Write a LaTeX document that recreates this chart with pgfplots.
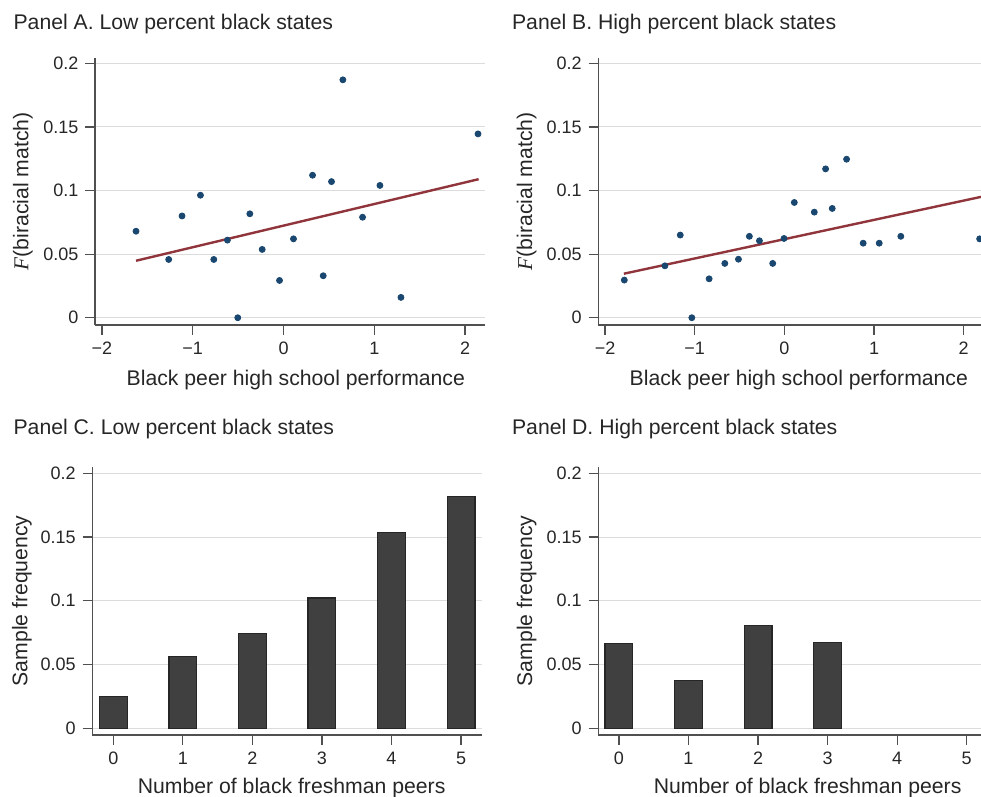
\documentclass[border=0pt]{standalone}
\usepackage{fontspec}
\setmainfont{Liberation Sans}
\newfontfamily\serifit{Liberation Serif}
\usepackage{pgfplots}
\pgfplotsset{compat=1.18}

\definecolor{navy}{HTML}{1A476F}
\definecolor{maroon}{HTML}{90353B}
\definecolor{barfill}{HTML}{404040}
\definecolor{baredge}{HTML}{262626}
\definecolor{gridc}{HTML}{DCDCDC}
\definecolor{axisc}{HTML}{505050}

\pgfplotsset{
  panel/.style={
    scale only axis,
    anchor=south west,
    axis lines*=left,
    axis line style={axisc, line width=0.6pt},
    every tick/.style={axisc, line width=0.6pt},
    tick align=outside,
    major tick length=4.8pt,
    ymajorgrids,
    major grid style={gridc, line width=0.5pt},
    ytick={0,0.05,0.1,0.15,0.2},
    yticklabels={0,0.05,0.1,0.15,0.2},
    tick label style={font=\fontsize{9}{10}\selectfont, text=black!85},
    label style={font=\fontsize{10.6}{12}\selectfont, text=black!85},
    clip=false,
  },
}

\begin{document}
\begin{tikzpicture}
\path[use as bounding box] (0,0) rectangle (490.5pt,398.5pt);

\tikzset{ttl/.style={anchor=base west, inner sep=0pt, font=\fontsize{10.6}{12}\selectfont, text=black!85}}
\node[ttl] at (6.6pt,383.5pt) {Panel A. Low percent black states};
\node[ttl] at (255.85pt,383.5pt) {Panel B. High percent black states};
\node[ttl] at (6.6pt,181pt) {Panel C. Low percent black states};
\node[ttl] at (255.85pt,181pt) {Panel D. High percent black states};

% Panel A
\begin{axis}[panel,
  at={(47.5pt,236pt)}, width=195pt, height=133.65pt,
  xmin=-2.077, xmax=2.22, ymin=-0.0057, ymax=0.2044,
  xtick={-2,-1,0,1,2}, xticklabels={−2,−1,0,1,2},
  xlabel={Black peer high school performance},
  ylabel={{\serifit\itshape F}(biracial match)},
  xlabel style={at={(axis description cs:0.515,-0.227)}, anchor=base},
  ylabel style={at={(axis description cs:-0.185,0.5)}, anchor=center},
]
\addplot[only marks, mark=*, mark size=1.5pt, navy] coordinates {
  (-1.625,0.068) (-1.265,0.0458) (-1.118,0.080) (-0.915,0.0963)
  (-0.618,0.061) (-0.768,0.0458) (-0.504,0.0) (-0.371,0.0817)
  (-0.235,0.0537) (-0.044,0.0293) (0.110,0.062) (0.320,0.112)
  (0.4375,0.033) (0.529,0.107) (0.654,0.187) (0.871,0.079)
  (1.0625,0.104) (1.294,0.016) (2.143,0.1445)
};
\addplot[maroon, line width=1.2pt] coordinates {(-1.625,0.0448) (2.15,0.1089)};
\end{axis}

% Panel B
\begin{axis}[panel,
  at={(299.15pt,236pt)}, width=191.35pt, height=133.65pt,
  xmin=-2.075, xmax=2.193, ymin=-0.0057, ymax=0.2044,
  xtick={-2,-1,0,1,2}, xticklabels={−2,−1,0,1,2},
  xlabel={Black peer high school performance},
  ylabel={{\serifit\itshape F}(biracial match)},
  xlabel style={at={(axis description cs:0.524,-0.227)}, anchor=base},
  ylabel style={at={(axis description cs:-0.187,0.5)}, anchor=center},
]
\addplot[only marks, mark=*, mark size=1.5pt, navy] coordinates {
  (-1.785,0.0296) (-1.332,0.0408) (-1.161,0.065) (-1.032,0.0)
  (-0.839,0.0306) (-0.664,0.0427) (-0.512,0.046) (-0.390,0.064)
  (-0.278,0.0605) (-0.130,0.0427) (-0.004,0.0623) (0.111,0.0906)
  (0.334,0.083) (0.460,0.117) (0.534,0.0859) (0.694,0.1246)
  (0.879,0.0586) (1.058,0.0586) (1.299,0.064) (2.178,0.062)
};
\addplot[maroon, line width=1.2pt] coordinates {(-1.79,0.0346) (2.193,0.095)};
\end{axis}

% Panel C
\begin{axis}[panel,
  at={(46.15pt,31pt)}, width=194.7pt, height=134.15pt,
  xmin=-0.302, xmax=5.297, ymin=-0.0053, ymax=0.2052,
  xtick={0,1,2,3,4,5}, xticklabels={0,1,2,3,4,5},
  xlabel={Number of black freshman peers},
  ylabel={Sample frequency},
  xlabel style={at={(axis description cs:0.512,-0.2175)}, anchor=base},
  ylabel style={at={(axis description cs:-0.181,0.5)}, anchor=center},
]
\addplot[ybar, bar width=0.4, fill=barfill, draw=baredge, line width=0.6pt] coordinates {
  (0,0.0248) (1,0.0565) (2,0.0745) (3,0.1022) (4,0.1537) (5,0.1817)
};
\end{axis}

% Panel D
\begin{axis}[panel,
  at={(299.15pt,31pt)}, width=191.35pt, height=134.15pt,
  xmin=-0.297, xmax=5.206, ymin=-0.0053, ymax=0.2052,
  xtick={0,1,2,3,4,5}, xticklabels={0,1,2,3,4,5},
  xlabel={Number of black freshman peers},
  ylabel={Sample frequency},
  xlabel style={at={(axis description cs:0.547,-0.2175)}, anchor=base},
  ylabel style={at={(axis description cs:-0.187,0.5)}, anchor=center},
]
\addplot[ybar, bar width=0.4, fill=barfill, draw=baredge, line width=0.6pt] coordinates {
  (0,0.0667) (1,0.0374) (2,0.0805) (3,0.0672)
};
\end{axis}
\end{tikzpicture}
\end{document}
